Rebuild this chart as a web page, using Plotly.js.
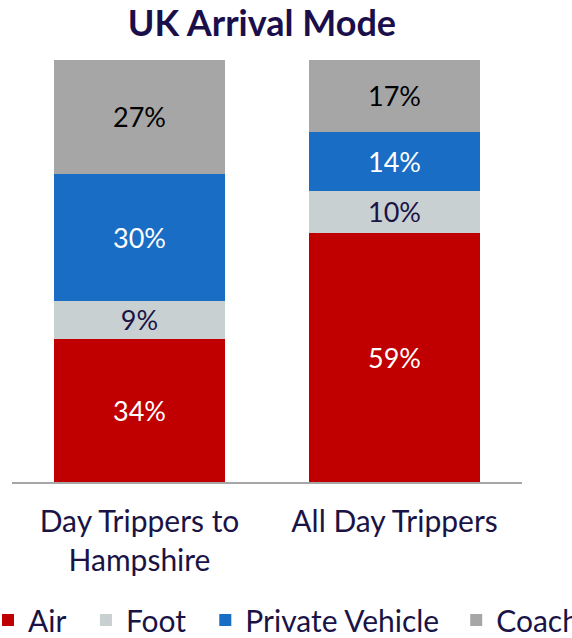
<!DOCTYPE html>
<html>
<head>
<meta charset="utf-8">
<script src="https://cdn.plot.ly/plotly-3.0.1.min.js"></script>
<style>html,body{margin:0;padding:0;background:#fff;}#chart{width:572px;height:638px;}</style>
</head>
<body>
<div id="chart"></div>
<script>
const categories = ["Day Trippers to<br>Hampshire", "All Day Trippers"];
const seriesNames = ["Air", "Foot", "Private Vehicle", "Coach"];
const air = [34, 59];
const foot = [9, 10];
const privateVehicle = [30, 14];
const coach = [27, 17];
const titleText = "UK Arrival Mode";

const colors = ["#C00000", "#C9D0D1", "#1A6DC4", "#A6A6A6"];
const labelColors = ["#FFFFFF", "#1A1446", "#FFFFFF", "#000000"];
const values = [air, foot, privateVehicle, coach];
const legendIds = ["legend", "legend2", "legend3", "legend4"];
const legendX = [-0.0471, 0.145, 0.379, 0.871];
const font = "Lato, 'Open Sans', sans-serif";

const traces = values.map((v, i) => ({
  type: "bar",
  name: seriesNames[i],
  x: categories,
  y: v,
  text: v.map(d => d + "%"),
  textposition: "inside",
  insidetextanchor: "middle",
  textangle: 0,
  textfont: {family: font, size: 27, color: labelColors[i]},
  constraintext: "none",
  marker: {color: colors[i], line: {width: 0}},
  legend: legendIds[i],
  hoverinfo: "skip"
}));

const layout = {
  width: 572, height: 638,
  margin: {l: 12, r: 50, t: 60, b: 156, autoexpand: false},
  barmode: "stack",
  bargap: 0.333,
  paper_bgcolor: "#fff", plot_bgcolor: "#fff",
  title: {text: "<b>" + titleText + "</b>", font: {family: font, size: 36, color: "#1A0F4A"},
          x: 0.458, xanchor: "center", y: 0.964, yanchor: "middle"},
  xaxis: {showline: true, linecolor: "#A6A6A6", linewidth: 2, ticks: "", showgrid: false,
          tickfont: {family: font, size: 30, color: "#1A1446"}, ticklabelstandoff: 12},
  yaxis: {range: [0, 100], visible: false, showgrid: false, zeroline: false},
  showlegend: true
};
legendIds.forEach((id, i) => {
  layout[id] = {orientation: "h", xref: "paper", x: legendX[i], xanchor: "left",
                yref: "container", y: 1 - 620 / 638, yanchor: "middle",
                font: {family: font, size: 30, color: "#1A1446"},
                itemwidth: 30, bgcolor: "rgba(0,0,0,0)"};
});

Plotly.newPlot("chart", traces, layout, {displayModeBar: false, staticPlot: true});
</script>
</body>
</html>
